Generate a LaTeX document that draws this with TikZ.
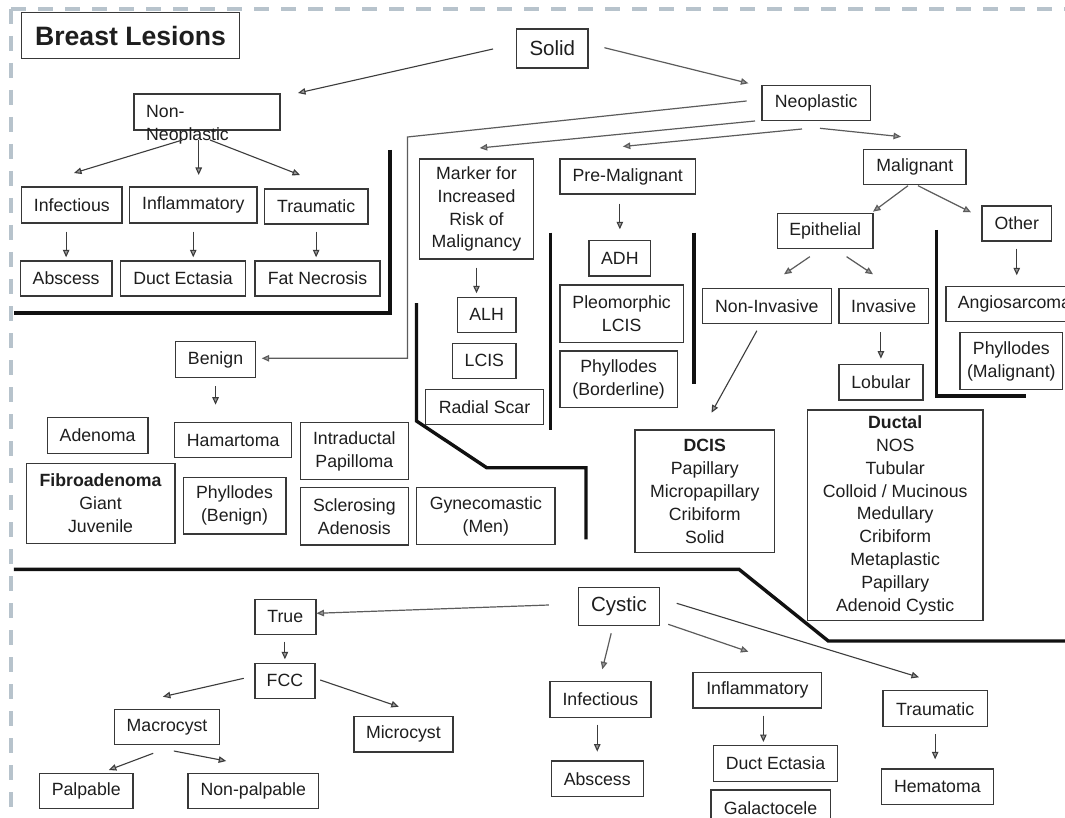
\documentclass[tikz,border=0pt]{standalone}
\usepackage{fontspec}
\setmainfont{Liberation Sans}
\usetikzlibrary{arrows.meta}
\definecolor{boxc}{HTML}{383838}
\definecolor{txtc}{HTML}{1E1E1E}
\definecolor{arrc}{HTML}{3C3C3C}
\definecolor{linkc}{HTML}{5C5C5C}
\definecolor{headc}{HTML}{9A9A9A}
\definecolor{framec}{HTML}{B7C3CC}
\definecolor{sepc}{HTML}{111111}
\newcommand\lbl{\fontsize{17.7}{22.9}\selectfont}
\newcommand\lblbig{\fontsize{20.5}{24}\selectfont}
\newcommand\titlefont{\fontsize{26.6}{30}\selectfont\bfseries}
% \bx{name}{cx}{cy}{width}{height}{text}
\newcommand\bx[6]{\node[lbox, minimum width=#4pt, minimum height=#5pt] (#1) at (#2,#3) {#6};}

\begin{document}
\begin{tikzpicture}[x=1pt,y=-1pt,
  lbox/.style={draw=boxc, line width=1.4pt, inner sep=0pt, text=txtc, font=\lbl, align=center},
  arr/.style={draw=arrc, line width=1.1pt, -{Triangle[length=7.5pt,width=6.5pt,fill=headc]}},
  link/.style={draw=linkc, line width=1.2pt},
  linkarr/.style={link, -{Triangle[length=7.5pt,width=6.5pt,fill=headc]}},
  sepline/.style={draw=sepc, line width=3.4pt, line join=miter},
  frame/.style={draw=framec, line width=4pt, dash pattern=on 15pt off 12pt}
]
\clip (0,0) rectangle (1065,818);
\fill[white] (0,0) rectangle (1065,818);

% dashed outer frame
\draw[frame] (11.4,9) -- (1065,9);
\draw[frame] (11.4,9) -- (11.4,818);

% section separators
\draw[sepline] (389.8,150) -- (389.8,313) -- (13.8,313);
\draw[sepline] (416.5,303) -- (416.5,421) -- (486.7,467.7) -- (586,467.7) -- (586,539.3);
\draw[sepline] (550.7,232.7) -- (550.7,430);
\draw[sepline] (694,232.7) -- (694,384.3);
\draw[sepline] (936.7,230) -- (936.7,396) -- (1026,396);
\draw[sepline] (13.8,569.3) -- (739,569.3) -- (828.3,641) -- (1070,641);

% title
\node[lbox, font=\titlefont, minimum width=217.6pt, minimum height=46.4pt] (title) at (130.5,35.5) {Breast Lesions};

% solid lesions
\node[lbox, font=\lblbig, minimum width=71.5pt, minimum height=39pt] (solid) at (552.3,48.5) {Solid};
\bx{nonneo}{207}{112}{146}{36}{}
\node[text=txtc, font=\lbl, align=left, anchor=west, inner sep=0pt] (nonneo-t) at (146,125) {Non-\\Neoplastic};
\bx{infect1}{71.85}{205}{100.3}{36}{Infectious}
\bx{inflam1}{193.25}{205}{127.5}{36}{Inflammatory}
\bx{traum1}{316.15}{206.5}{103.3}{35}{Traumatic}
\bx{absc1}{66.15}{278.5}{91.7}{35}{Abscess}
\bx{duct1}{183}{278.5}{125}{35}{Duct Ectasia}
\bx{fatnec}{317.5}{278.5}{125}{35}{Fat Necrosis}

\bx{neo}{816.25}{103}{108.5}{35.4}{Neoplastic}
\bx{marker}{476.5}{209}{114.3}{100}{Marker for\\Increased\\Risk of\\Malignancy}
\bx{premal}{627.75}{176.5}{135.5}{35}{Pre-Malignant}
\bx{alh}{486.65}{314.8}{58.7}{35}{ALH}
\bx{lcis}{484.35}{360.8}{63.3}{35}{LCIS}
\bx{radial}{484.5}{406.8}{117.6}{35}{Radial Scar}
\bx{adh}{619.85}{258.35}{61.7}{35.3}{ADH}
\bx{pleo}{621.65}{313.65}{123.3}{57.3}{Pleomorphic\\LCIS}
\bx{phylbord}{618.65}{379.15}{117.3}{56.3}{Phyllodes\\(Borderline)}

\bx{malig}{914.85}{166.8}{102.3}{35}{Malignant}
\bx{epi}{825.2}{230.8}{95.6}{35}{Epithelial}
\bx{other}{1016.75}{223.5}{69.5}{35}{Other}
\bx{noninv}{766.8}{305.8}{129}{35}{Non-Invasive}
\bx{inv}{883.65}{305.8}{89.7}{35}{Invasive}
\bx{angio}{1014.5}{304.2}{137}{35}{Angiosarcoma}
\bx{phylmal}{1011.35}{361}{102.7}{56.6}{Phyllodes\\(Malignant)}
\bx{lobular}{880.9}{382.15}{84.2}{35.7}{Lobular}
\bx{dcis}{704.8}{491.15}{139.6}{122.3}{\textbf{DCIS}\\Papillary\\Micropapillary\\Cribiform\\Solid}
\bx{ductal}{895.2}{515.35}{175.6}{210.7}{\textbf{Ductal}\\NOS\\Tubular\\Colloid / Mucinous\\Medullary\\Cribiform\\Metaplastic\\Papillary\\Adenoid Cystic}

\bx{benign}{215.55}{359.5}{79.9}{35.6}{Benign}
\bx{adenoma}{97.6}{435.5}{100.8}{35.6}{Adenoma}
\bx{hamart}{233.15}{440.2}{117.1}{35}{Hamartoma}
\bx{intrad}{354.35}{451}{108.1}{56.6}{Intraductal\\Papilloma}
\bx{fibro}{100.6}{503.3}{148.8}{80}{\textbf{Fibroadenoma}\\Giant\\Juvenile}
\bx{phylben}{234.5}{505.65}{102.6}{56.7}{Phyllodes\\(Benign)}
\bx{scler}{354.35}{516.35}{108.1}{57.3}{Sclerosing\\Adenosis}
\bx{gyne}{485.85}{516.2}{138.3}{57}{Gynecomastic\\(Men)}

% cystic lesions
\node[lbox, font=\lblbig, minimum width=81.2pt, minimum height=38.4pt] (cystic) at (619,606.5) {Cystic};
\bx{true}{285.3}{616.8}{61}{35}{True}
\bx{fcc}{284.9}{680.8}{60.2}{35}{FCC}
\bx{macro}{167.05}{726.8}{104.7}{35}{Macrocyst}
\bx{micro}{403.4}{734.35}{98.8}{35.3}{Microcyst}
\bx{palp}{86.25}{790.8}{93.3}{35}{Palpable}
\bx{nonpalp}{253.25}{790.8}{130.5}{35}{Non-palpable}
\bx{infect2}{600.45}{699.5}{101.3}{35.6}{Infectious}
\bx{absc2}{597.25}{778.85}{92.1}{35.7}{Abscess}
\bx{inflam2}{757.4}{690.15}{128.6}{35.7}{Inflammatory}
\bx{duct2}{775.45}{763.5}{124.5}{35.6}{Duct Ectasia}
\bx{galact}{770.5}{808}{119.4}{36}{Galactocele}
\bx{traum2}{935.15}{708.7}{104.1}{36}{Traumatic}
\bx{hemat}{937.35}{786.65}{111.9}{35.3}{Hematoma}

% free arrow ends
\coordinate (solid-l) at (493,49);      \coordinate (nonneo-in) at (298,93);
\coordinate (solid-r) at (604.4,47.7);  \coordinate (neo-in) at (748.4,83.3);
\coordinate (nonneo-a) at (182.5,140);  \coordinate (infect1-in) at (74,173);
\coordinate (nonneo-b) at (198.7,140);  \coordinate (inflam1-in) at (198.7,175);
\coordinate (nonneo-c) at (210,140);    \coordinate (traum1-in) at (300,175);
\coordinate (neo-a) at (746.6,101);     \coordinate (bend-a) at (407.4,137);
\coordinate (bend-b) at (407.4,358.3);  \coordinate (benign-in) at (261.7,358.3);
\coordinate (neo-b) at (755,121);       \coordinate (marker-in) at (479.7,148);
\coordinate (neo-c) at (802,129);       \coordinate (premal-in) at (622.8,146.5);
\coordinate (neo-d) at (820,128.3);     \coordinate (malig-in) at (901,136.7);
\coordinate (malig-a) at (908,185.7);   \coordinate (epi-in) at (873,211.7);
\coordinate (malig-b) at (918,185.7);   \coordinate (other-in) at (971,212.3);
\coordinate (epi-a) at (809.8,256.7);   \coordinate (noninv-in) at (784,274.3);
\coordinate (epi-b) at (846.6,256.7);   \coordinate (inv-in) at (873,274.3);
\coordinate (noninv-a) at (756.9,330.7); \coordinate (dcis-in) at (711.5,412.7);
\coordinate (cystic-a) at (548.8,605);  \coordinate (true-in) at (316.5,613.3);
\coordinate (cystic-b) at (611.2,633.3); \coordinate (infect2-in) at (602.3,669.3);
\coordinate (cystic-c) at (668.2,624.3); \coordinate (inflam2-in) at (748.4,651.7);
\coordinate (cystic-d) at (676.7,603.3); \coordinate (traum2-in) at (919,677.3);
\coordinate (fcc-a) at (243.8,678.3);   \coordinate (macro-in) at (162.9,696.7);
\coordinate (fcc-b) at (320.2,680);     \coordinate (micro-in) at (398.8,706.7);
\coordinate (macro-a) at (153.2,753.3); \coordinate (palp-in) at (108.8,770);
\coordinate (macro-b) at (173.9,751);   \coordinate (nonpalp-in) at (226.2,761);

% diagonal connectors
\draw[arr] (solid-l) -- (nonneo-in);
\draw[linkarr] (solid-r) -- (neo-in);
\draw[arr] (nonneo-a) -- (infect1-in);
\draw[arr] (nonneo-b) -- (inflam1-in);
\draw[arr] (nonneo-c) -- (traum1-in);
\draw[linkarr] (neo-a) -- (bend-a) -- (bend-b) -- (benign-in);
\draw[linkarr] (neo-b) -- (marker-in);
\draw[linkarr] (neo-c) -- (premal-in);
\draw[linkarr] (neo-d) -- (malig-in);
\draw[linkarr] (malig-a) -- (epi-in);
\draw[linkarr] (malig-b) -- (other-in);
\draw[linkarr] (epi-a) -- (noninv-in);
\draw[linkarr] (epi-b) -- (inv-in);
\draw[arr] (noninv-a) -- (dcis-in);
\draw[linkarr] (cystic-a) -- (true-in);
\draw[linkarr] (cystic-b) -- (infect2-in);
\draw[linkarr] (cystic-c) -- (inflam2-in);
\draw[arr] (cystic-d) -- (traum2-in);
\draw[arr] (fcc-a) -- (macro-in);
\draw[arr] (fcc-b) -- (micro-in);
\draw[arr] (macro-a) -- (palp-in);
\draw[arr] (macro-b) -- (nonpalp-in);

% vertical connectors
\draw[arr, shorten <=8pt, shorten >=3pt] (absc1.north |- infect1.south) -- (absc1.north);
\draw[arr, shorten <=8pt, shorten >=3pt] (inflam1.south) -- (inflam1.south |- duct1.north);
\draw[arr, shorten <=7pt, shorten >=3pt] (traum1.south) -- (traum1.south |- fatnec.north);
\draw[arr, shorten <=8pt, shorten >=3.3pt] (marker.south) -- (marker.south |- alh.north);
\draw[arr, shorten <=9pt, shorten >=10.7pt] (adh.north |- premal.south) -- (adh.north);
\draw[arr, shorten <=7pt, shorten >=10.7pt] (other.south) -- (other.south |- angio.north);
\draw[arr, shorten <=8.4pt, shorten >=5pt] (lobular.north |- inv.south) -- (lobular.north);
\draw[arr] ([yshift=-8.4pt]benign.south) -- ++(0,18.3);
\draw[arr, shorten <=6.7pt, shorten >=3.3pt] (fcc.north |- true.south) -- (fcc.north);
\draw[arr, shorten <=6.7pt, shorten >=8.7pt] (absc2.north |- infect2.south) -- (absc2.north);
\draw[arr, shorten <=7pt, shorten >=3pt] ([xshift=6pt]inflam2.south) -- ([xshift=6pt]inflam2.south |- duct2.north);
\draw[arr, shorten <=6.6pt, shorten >=9pt] (traum2.south) -- (traum2.south |- hemat.north);
\end{tikzpicture}
\end{document}
